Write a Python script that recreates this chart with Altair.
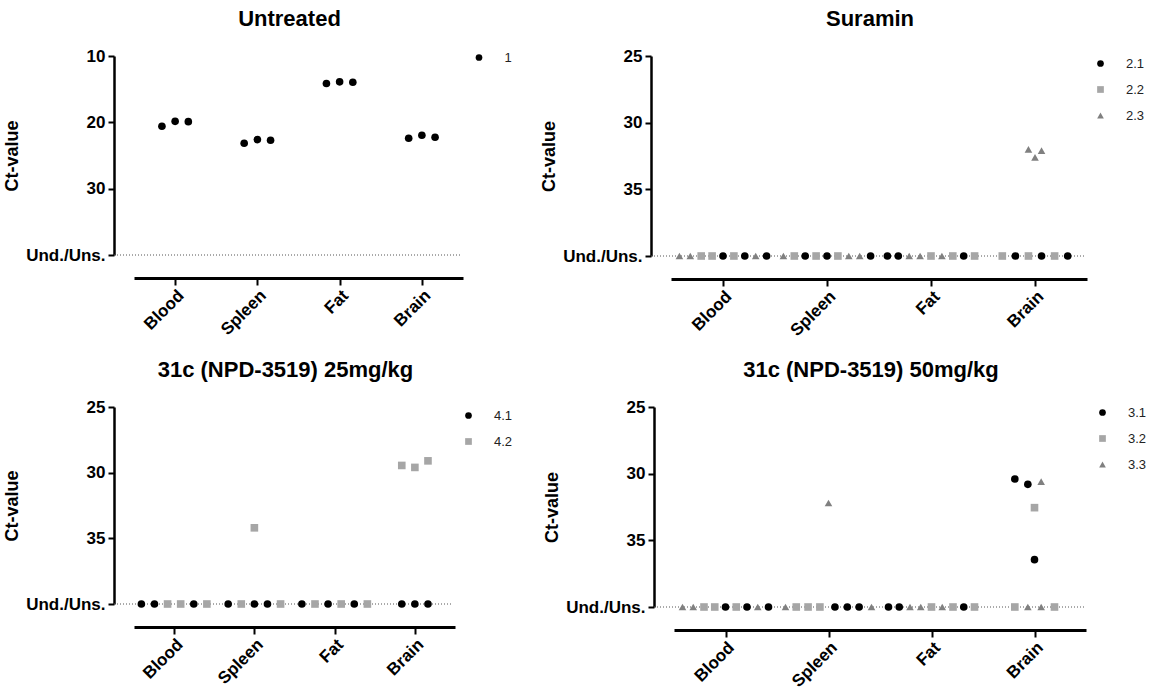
import altair as alt
import pandas as pd

FONT = "Liberation Sans"
TISSUES = ["Blood", "Spleen", "Fat", "Brain"]
UND = 40  # position used for "Und./Uns." (undetermined / unsampled)

# ---------------- Untreated ----------------
UNT_SERIES = ["1"]
UNT_TISSUE = ["Blood"] * 3 + ["Spleen"] * 3 + ["Fat"] * 3 + ["Brain"] * 3
UNT_GROUP = ["1"] * 12
UNT_CT = [20.6, 19.85, 19.9, 23.15, 22.6, 22.7, 14.15, 13.9, 13.95, 22.4, 21.95, 22.25]
UNT_SLOT = [-1, 0, 1] * 4

# ---------------- Suramin ----------------
SUR_SERIES = ["2.1", "2.2", "2.3"]
SUR_TISSUE = ["Blood"] * 9 + ["Spleen"] * 9 + ["Fat"] * 9 + ["Brain"] * 9
SUR_GROUP = ["2.3", "2.3", "2.2", "2.2", "2.1", "2.2", "2.1", "2.3", "2.1",
             "2.3", "2.2", "2.1", "2.2", "2.1", "2.2", "2.3", "2.3", "2.1",
             "2.1", "2.1", "2.3", "2.3", "2.2", "2.3", "2.2", "2.1", "2.2",
             "2.2", "2.1", "2.2", "2.1", "2.2", "2.1", "2.3", "2.3", "2.3"]
SUR_CT = [None] * 33 + [32.0, 32.6, 32.1]
SUR_SLOT = ([-4, -3, -2, -1, 0, 1, 2, 3, 4] * 3
            + [-3, -1.8, -0.6, 0.6, 1.8, 3, -0.6, 0, 0.6])

# ---------------- 31c (NPD-3519) 25mg/kg ----------------
P25_SERIES = ["4.1", "4.2"]
P25_TISSUE = ["Blood"] * 6 + ["Spleen"] * 6 + ["Fat"] * 6 + ["Brain"] * 6
P25_GROUP = ["4.1", "4.1", "4.2", "4.2", "4.1", "4.2",
             "4.1", "4.2", "4.1", "4.1", "4.2", "4.2",
             "4.1", "4.2", "4.1", "4.2", "4.1", "4.2",
             "4.1", "4.1", "4.1", "4.2", "4.2", "4.2"]
P25_CT = ([None] * 6 + [None] * 5 + [34.2] + [None] * 6
          + [None] * 3 + [29.45, 29.6, 29.1])
P25_SLOT = ([-2.5, -1.5, -0.5, 0.5, 1.5, 2.5]
            + [-2, -1, 0, 1, 2, 0]
            + [-2.5, -1.5, -0.5, 0.5, 1.5, 2.5]
            + [-1, 0, 1, -1, 0, 1])

# ---------------- 31c (NPD-3519) 50mg/kg ----------------
P50_SERIES = ["3.1", "3.2", "3.3"]
P50_TISSUE = ["Blood"] * 9 + ["Spleen"] * 9 + ["Fat"] * 9 + ["Brain"] * 9
P50_GROUP = ["3.3", "3.3", "3.2", "3.2", "3.1", "3.2", "3.1", "3.3", "3.1",
             "3.3", "3.2", "3.2", "3.2", "3.1", "3.1", "3.1", "3.3", "3.3",
             "3.1", "3.1", "3.3", "3.3", "3.2", "3.3", "3.2", "3.1", "3.2",
             "3.1", "3.1", "3.3", "3.2", "3.1", "3.2", "3.3", "3.3", "3.2"]
P50_CT = ([None] * 9 + [None] * 8 + [32.2] + [None] * 9
          + [30.4, 30.8, 30.6, 32.55, 36.45, None, None, None, None])
P50_SLOT = ([-4, -3, -2, -1, 0, 1, 2, 3, 4]
            + [-4, -3, -1.9, -0.8, 0.6, 1.75, 2.85, 4, 0]
            + [-4, -3, -2, -1, 0, 1, 2, 3, 4]
            + [-1.83, -0.62, 0.62, 0, 0, -1.83, -0.62, 0.62, 1.86])

SHAPES = ["circle", "square", "triangle-up"]
COLORS = ["#000000", "#a6a6a6", "#808080"]

YOFF = 20


def panel(title, tissue, group, ct, slot, series, ymin, yticks, width, height,
          unit, legend_x, legend_y):
    df = pd.DataFrame({
        "tissue": tissue,
        "series": group,
        "ct": [UND if v is None else v for v in ct],
        "slot": slot,
    })
    yscale = alt.Scale(domain=[ymin, UND], reverse=True, nice=False, zero=False)
    yaxis = alt.Axis(
        values=yticks,
        labelExpr="datum.value == 40 ? 'Und./Uns.' : datum.value",
        title="Ct-value", titleFont=FONT, titleFontSize=18, titleFontWeight="bold",
        titleColor="black", titlePadding=4,
        labelFont=FONT, labelFontSize=17, labelFontWeight="bold", labelColor="black",
        labelPadding=3, tickSize=6, tickWidth=2, tickColor="black",
        domainColor="black", domainWidth=2.5, grid=False, offset=YOFF,
    )
    y = alt.Y("ct:Q", scale=yscale, axis=yaxis)
    n = len(series)
    points = alt.Chart(df).mark_point(filled=True, size=58, opacity=1).encode(
        x=alt.X("tissue:N", sort=TISSUES,
                scale=alt.Scale(type="point", padding=0.5, domain=TISSUES),
                axis=alt.Axis(title=None, labelAngle=-45, labelFont=FONT,
                              labelFontSize=17, labelFontWeight="bold",
                              labelColor="black", labelPadding=2,
                              tickSize=7, tickWidth=2, tickColor="black",
                              domainColor="black", domainWidth=3, grid=False,
                              offset=23)),
        xOffset=alt.XOffset("slot:Q",
                            scale=alt.Scale(domain=[-4, 4], range=[-4 * unit, 4 * unit])),
        y=y,
        color=alt.Color("series:N",
                        scale=alt.Scale(domain=series, range=COLORS[:n]),
                        legend=alt.Legend(title=None, orient="none",
                                          legendX=width + legend_x, legendY=legend_y,
                                          labelFont=FONT, labelFontSize=13,
                                          labelColor="#222", labelOffset=19,
                                          symbolSize=45, rowPadding=12,
                                          padding=0)),
        shape=alt.Shape("series:N",
                        scale=alt.Scale(domain=series, range=SHAPES[:n])),
    )
    rule = alt.Chart(pd.DataFrame({"ct": [UND]})).mark_rule(
        strokeDash=[1, 2], color="#555", strokeWidth=1
    ).encode(y=y, x=alt.value(-YOFF), x2=alt.value(width - 2))
    return alt.layer(rule, points).properties(
        width=width, height=height,
        title=alt.TitleParams(title, font=FONT, fontSize=22, fontWeight="bold",
                              color="black", anchor="middle", frame="group",
                              dx=-9, offset=16),
    )


p1 = panel("Untreated", UNT_TISSUE, UNT_GROUP, UNT_CT, UNT_SLOT, UNT_SERIES,
           10, [10, 20, 30, 40], 329, 199, 13.2, 9.5, -5)
p2 = panel("Suramin", SUR_TISSUE, SUR_GROUP, SUR_CT, SUR_SLOT, SUR_SERIES,
           25, [25, 30, 35, 40], 416, 200, 10.9, 7, 1)
p3 = panel("31c (NPD-3519) 25mg/kg", P25_TISSUE, P25_GROUP, P25_CT, P25_SLOT,
           P25_SERIES, 25, [25, 30, 35, 40], 321, 197, 13.1, 7, 2)
p4 = panel("31c (NPD-3519) 50mg/kg", P50_TISSUE, P50_GROUP, P50_CT, P50_SLOT,
           P50_SERIES, 25, [25, 30, 35, 40], 412, 200, 10.75, 10, -1)

RES = dict(x="independent", y="independent", color="independent",
           shape="independent", xOffset="independent")

row1 = alt.hconcat(p1, p2, spacing=27).resolve_scale(**RES)
row2 = alt.hconcat(p3, p4, spacing=30).resolve_scale(**RES)

chart = (
    alt.vconcat(row1, row2, spacing=20)
    .resolve_scale(**RES)
    .properties(background="white",
                padding={"left": 3, "top": 8, "right": 5, "bottom": 3})
    .configure_view(stroke="transparent", strokeWidth=0)
)

chart.save("out.html", embed_options={"renderer": "svg", "actions": False})
